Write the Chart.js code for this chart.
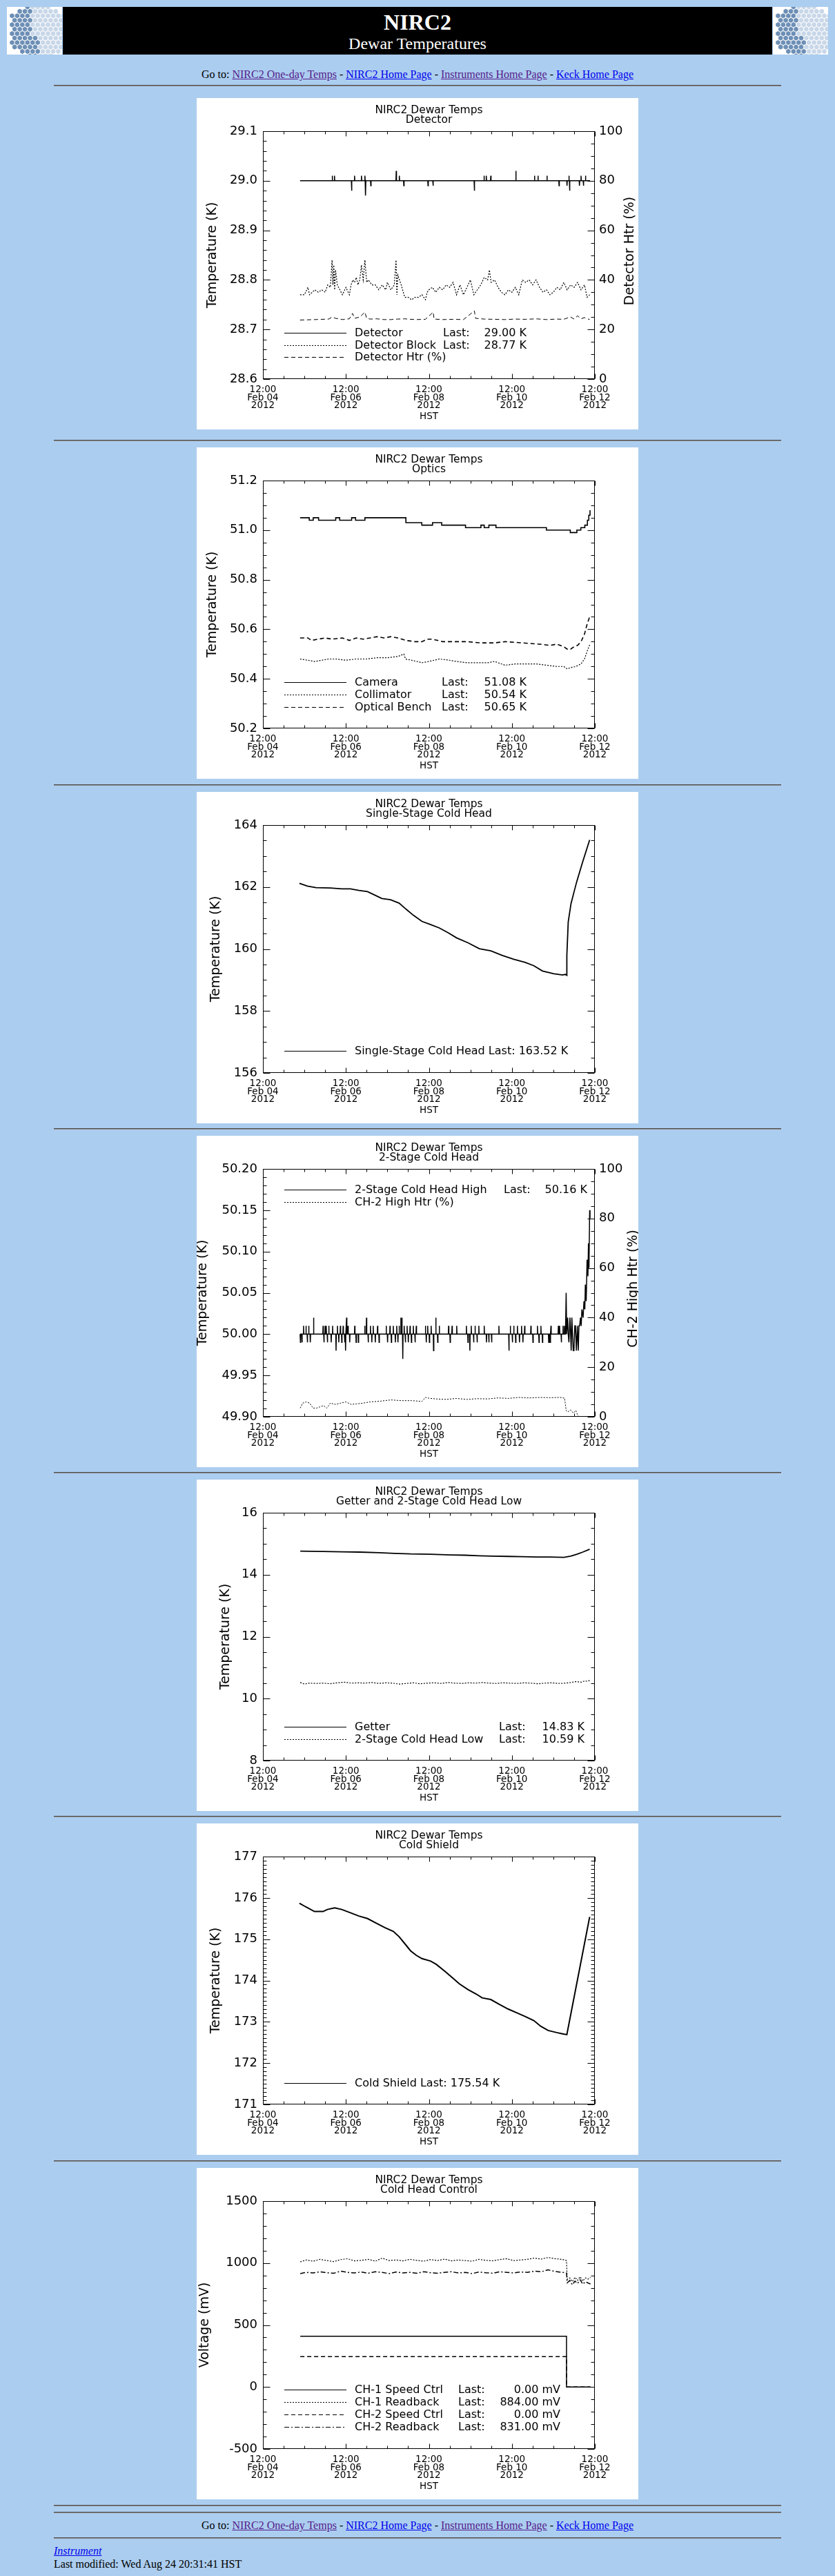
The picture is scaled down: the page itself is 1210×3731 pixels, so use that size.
<!DOCTYPE html>
<html>
<head>
<meta charset="utf-8">
<title>NIRC2 Dewar Temperatures</title>
<script src="https://cdn.jsdelivr.net/npm/chart.js@4.4.1/dist/chart.umd.min.js"></script>
<style>
  body { margin: 0; background: #abcdef; width: 1210px; height: 3731px; position: relative; overflow: hidden;
         font-family: "Liberation Serif", "Times New Roman", serif; font-size: 16px; color: #000; }
  .hr { position: absolute; left: 78px; width: 1054px; height: 0; border-top: 1px solid #4e4e4e; border-bottom: 1px solid #8a8a8a; }
  .panel { position: absolute; left: 285px; width: 640px; height: 480px; background: #fff; }
  .goto { position: absolute; left: 0; width: 1210px; text-align: center; line-height: 18px; }
  a { color: #0000ee; }
  a.v { color: #551a8b; }
  #banner { position: absolute; left: 91px; top: 10px; width: 1028px; height: 69px; background: #000; color: #fff; text-align: center; }
  #banner .t1 { position: absolute; left: 0; width: 100%; top: 4px; font-size: 32px; line-height: 36px; font-weight: bold; }
  #banner .t2 { position: absolute; left: 0; width: 100%; top: 39px; font-size: 24px; line-height: 28px; }
  .logo { position: absolute; top: 10px; }
  .foot { position: absolute; left: 78px; line-height: 18px; }
</style>
</head>
<body>

<canvas class="logo" id="logoL" width="80" height="69" style="left:10px"></canvas>
<div id="banner"><div class="t1">NIRC2</div><div class="t2">Dewar Temperatures</div></div>
<canvas class="logo" id="logoR" width="80" height="69" style="left:1120px"></canvas>

<div class="goto" style="top:99px">Go to: <a class="v" href="#">NIRC2 One-day Temps</a> - <a href="#">NIRC2 Home Page</a> - <a class="v" href="#">Instruments Home Page</a> - <a href="#">Keck Home Page</a></div>
<div class="hr" style="top:123px"></div>

<div class="panel" style="top:142px"><canvas id="c1" width="640" height="480"></canvas></div>
<div class="hr" style="top:637px"></div>
<div class="panel" style="top:648px"><canvas id="c2" width="640" height="480"></canvas></div>
<div class="hr" style="top:1136px"></div>
<div class="panel" style="top:1147px"><canvas id="c3" width="640" height="480"></canvas></div>
<div class="hr" style="top:1634px"></div>
<div class="panel" style="top:1645px"><canvas id="c4" width="640" height="480"></canvas></div>
<div class="hr" style="top:2132px"></div>
<div class="panel" style="top:2143px"><canvas id="c5" width="640" height="480"></canvas></div>
<div class="hr" style="top:2630px"></div>
<div class="panel" style="top:2641px"><canvas id="c6" width="640" height="480"></canvas></div>
<div class="hr" style="top:3129px"></div>
<div class="panel" style="top:3140px"><canvas id="c7" width="640" height="480"></canvas></div>
<div class="hr" style="top:3628px"></div>
<div class="hr" style="top:3638px"></div>

<div class="goto" style="top:3649px">Go to: <a class="v" href="#">NIRC2 One-day Temps</a> - <a href="#">NIRC2 Home Page</a> - <a class="v" href="#">Instruments Home Page</a> - <a href="#">Keck Home Page</a></div>
<div class="hr" style="top:3675px"></div>
<div class="foot" style="top:3686px"><a href="#"><i>Instrument</i></a></div>
<div class="foot" style="top:3705px">Last modified: Wed Aug 24 20:31:41 HST</div>

<script>
// x axis is hours after 12:00 Feb 04 2012 (HST)
const xTickLabels = [
    ['12:00', 'Feb 04', '2012'],
    ['12:00', 'Feb 06', '2012'],
    ['12:00', 'Feb 08', '2012'],
    ['12:00', 'Feb 10', '2012'],
    ['12:00', 'Feb 12', '2012'],
];

// Detector panel
const detectorBase = 29.00;
const detectorSpikes = [
    [40.1, 29.01], [41.4, 29.01], [51.3, 28.98], [53.0, 29.01], [57.0, 29.01], [59.0, 29.01],
    [59.4, 28.97], [62.4, 28.99], [77.1, 29.02], [78.9, 29.01], [81.5, 28.99], [95.5, 28.99],
    [98.4, 28.99], [122.3, 28.98], [127.9, 29.01], [129.2, 29.01], [131.8, 29.01], [146.3, 29.02],
    [157.1, 29.01], [159.1, 29.01], [164.3, 29.01], [171.3, 28.99], [175.9, 28.99], [177.0, 29.01],
    [177.4, 28.98], [183.1, 28.99], [184.0, 29.01], [185.4, 28.99], [186.6, 29.01],
];
const detectorBlock = [
    [21.5, 28.77], [24, 28.77], [26, 28.785], [27, 28.77], [30, 28.78], [32, 28.775], [34, 28.78],
    [36, 28.775], [37.5, 28.79], [39, 28.785], [40, 28.84], [40.5, 28.79], [41, 28.83], [41.5, 28.78],
    [42, 28.82], [43, 28.79], [44.5, 28.78], [46, 28.77], [48, 28.785], [50, 28.77], [51, 28.79],
    [52, 28.80], [53, 28.795], [54, 28.805], [55, 28.79], [56, 28.80], [57, 28.83], [58, 28.80],
    [59, 28.84], [60, 28.795], [61, 28.80], [63, 28.79], [65, 28.79], [67, 28.78], [69, 28.79],
    [71, 28.78], [72, 28.795], [74, 28.78], [76, 28.79], [77, 28.84], [77.5, 28.77], [78, 28.81],
    [79, 28.80], [80, 28.79], [82, 28.765], [84, 28.765], [86, 28.76], [88, 28.765], [90, 28.765],
    [92, 28.77], [94, 28.76], [95, 28.775], [96, 28.78], [98, 28.785], [100, 28.775], [102, 28.785],
    [104, 28.78], [106, 28.79], [108, 28.785], [110, 28.795], [112, 28.77], [114, 28.79], [116, 28.77],
    [118, 28.785], [120, 28.80], [122, 28.77], [124, 28.78], [126, 28.79], [128, 28.805], [130, 28.80],
    [131, 28.82], [132, 28.795], [134, 28.80], [136, 28.785], [138, 28.775], [140, 28.77], [142, 28.78],
    [144, 28.775], [146, 28.785], [148, 28.77], [150, 28.80], [152, 28.795], [154, 28.80], [156, 28.79],
    [158, 28.80], [160, 28.785], [162, 28.775], [164, 28.78], [166, 28.77], [168, 28.775], [170, 28.785],
    [172, 28.78], [174, 28.795], [176, 28.78], [178, 28.79], [180, 28.785], [182, 28.795], [184, 28.78],
    [186, 28.79], [187.5, 28.765], [189, 28.77],
];
const detectorHtr = [
    [21.5, 23.8], [30, 24], [38, 24.2], [40, 25], [42, 24.5], [46, 24], [50, 24.3], [51.8, 26.5],
    [53, 24.5], [56, 25], [59, 27], [60, 24.5], [62, 24.2], [66, 24.3], [70, 24], [74, 24], [78, 24.2],
    [82, 24.3], [88, 24], [94, 24.1], [98.5, 27], [99, 24.2], [104, 24], [110, 24.1], [116, 24],
    [122.3, 27.5], [123, 24.5], [128, 24.2], [134, 24.1], [140, 24], [146, 24.2], [152, 24.1],
    [158, 24.3], [164, 24], [170, 24.2], [174, 24.1], [176, 24.6], [178, 25], [180, 24.2], [182, 25.5],
    [184, 24.3], [186, 24.8], [189, 24],
];
const detectorNames = ['Detector', 'Detector Block', 'Detector Htr (%)'];
const detectorLast = ['29.00 K', '28.77 K', ''];

// Optics panel
const camera = [
    [21.5, 51.05], [26.8, 51.04], [29.1, 51.05], [32.2, 51.04], [42.1, 51.05], [44.4, 51.04],
    [51.3, 51.05], [53.6, 51.04], [59.0, 51.05], [82.7, 51.03], [91.9, 51.02], [98.1, 51.03],
    [103.4, 51.02], [117.2, 51.01], [126.1, 51.02], [128.0, 51.01], [130.7, 51.02], [134.8, 51.01],
    [164.0, 51.00], [177.8, 50.99], [181.6, 51.00], [183.9, 51.01], [186.2, 51.02], [187.7, 51.04],
    [188.5, 51.06], [189.2, 51.08],
];
const collimator = [
    [21.5, 50.48], [26, 50.475], [30, 50.47], [34, 50.475], [38, 50.48], [42, 50.48], [48, 50.475],
    [54, 50.48], [60, 50.48], [66, 50.485], [72, 50.485], [78, 50.49], [81.5, 50.50], [82.5, 50.48],
    [86, 50.475], [92, 50.465], [96, 50.47], [102, 50.48], [108, 50.475], [112, 50.47], [118, 50.465],
    [124, 50.465], [130, 50.465], [134, 50.47], [140, 50.455], [146, 50.46], [152, 50.46], [158, 50.46],
    [164, 50.455], [170, 50.45], [174, 50.45], [176, 50.44], [178, 50.445], [181, 50.45], [184, 50.46],
    [186, 50.48], [188, 50.52], [189.2, 50.54],
];
const opticalBench = [
    [21.5, 50.565], [26, 50.565], [28, 50.555], [32, 50.56], [36, 50.565], [40, 50.56], [46, 50.565],
    [50, 50.555], [54, 50.565], [58, 50.56], [62, 50.565], [66, 50.57], [70, 50.565], [74, 50.57],
    [78, 50.565], [82.7, 50.555], [88, 50.55], [92, 50.55], [95, 50.56], [98, 50.56], [104, 50.55],
    [110, 50.55], [118, 50.55], [126, 50.545], [134, 50.545], [140, 50.55], [150, 50.545], [160, 50.54],
    [166, 50.535], [170, 50.54], [174, 50.53], [176, 50.52], [178, 50.52], [180, 50.53], [182, 50.535],
    [184, 50.55], [186, 50.58], [187.5, 50.62], [189, 50.65],
];
const opticsNames = ['Camera', 'Collimator', 'Optical Bench'];
const opticsLast = ['51.08 K', '50.54 K', '50.65 K'];

// Single-stage cold head panel
const singleStage = [
    [21.1, 162.12], [25.7, 162.03], [30.7, 161.98], [39, 161.97], [45.6, 161.94], [50.6, 161.94],
    [55.5, 161.89], [60.5, 161.85], [65.5, 161.72], [68.8, 161.63], [73.8, 161.59], [78.8, 161.48],
    [82.9, 161.28], [87, 161.09], [92, 160.89], [97, 160.79], [102, 160.68], [107, 160.53],
    [112, 160.36], [118.6, 160.20], [125.2, 160.01], [131.8, 159.94], [138.5, 159.79], [145.1, 159.67],
    [151.7, 159.57], [156.7, 159.46], [161.7, 159.29], [168.3, 159.20], [173.3, 159.16], [174.9, 159.18],
    [175.8, 159.15], [175.8, 159.79], [176.6, 160.87], [178.2, 161.46], [179.9, 161.83], [181.5, 162.17],
    [184.9, 162.80], [189, 163.52],
];
const singleStageName = 'Single-Stage Cold Head';
const singleStageLast = '163.52 K';

// 2-stage cold head panel
const ch2HighBase = 50.00;
const ch2HighSpikes = [
    [21.7, 49.99], [22.6, 49.99], [23.5, 50.01], [24.9, 50.01], [25.7, 49.99], [26.5, 50.01], [27.4, 49.99],
    [29.3, 50.02], [34.8, 50.01], [35.3, 49.99], [36.0, 50.01], [36.6, 50.01], [37.3, 49.99], [38.1, 50.01],
    [39.5, 49.99], [40.3, 50.01], [42.3, 49.98], [43.1, 50.01], [43.9, 49.99], [44.8, 50.01], [45.6, 49.99],
    [46.4, 50.01], [47.3, 49.99], [47.8, 49.98], [48.4, 50.02], [49.2, 50.01], [50.2, 49.99], [53.1, 50.01],
    [53.9, 49.99], [55.2, 49.99], [58.9, 50.01], [59.9, 50.02], [60.9, 49.99], [62.2, 50.01], [63.0, 49.99],
    [63.8, 50.01], [65.0, 49.99], [66.3, 50.01], [67.2, 49.99], [71.3, 50.01], [72.1, 49.99], [73.5, 50.01],
    [74.3, 49.99], [75.4, 50.01], [76.6, 49.99], [77.4, 50.01], [78.1, 49.99], [78.8, 50.01], [79.8, 50.02],
    [80.4, 50.02], [80.9, 49.97], [81.7, 50.01], [82.4, 49.99], [83.4, 50.01], [84.1, 49.99], [85.1, 50.01],
    [85.9, 49.99], [87.0, 50.01], [88.0, 49.99], [88.7, 50.01], [94.0, 50.01], [94.5, 49.99], [95.3, 50.01],
    [96.3, 49.99], [97.3, 50.01], [98.7, 49.98], [100.0, 50.02], [101.1, 49.99], [102.0, 50.01],
    [107.4, 50.01], [108.3, 49.99], [109.4, 50.01], [112.1, 50.01], [117.7, 50.01], [118.6, 49.99],
    [119.7, 49.98], [120.5, 50.01], [121.9, 49.99], [122.7, 50.01], [123.9, 49.99], [124.9, 50.01],
    [128.0, 50.01], [129.3, 49.99], [130.7, 49.99], [132.3, 49.99], [136.5, 50.01], [142.3, 49.98],
    [143.1, 50.01], [144.3, 49.99], [145.1, 50.01], [146.2, 49.99], [147.2, 50.01], [148.4, 49.99],
    [149.6, 50.01], [150.4, 49.99], [151.4, 50.01], [155.0, 50.01], [156.2, 49.99], [158.8, 50.01],
    [159.7, 49.99], [160.8, 50.01], [161.7, 49.99], [165.3, 49.99], [166.1, 49.99], [166.6, 50.01],
    [170.9, 50.01], [171.6, 50.01], [172.6, 49.99], [173.6, 50.01], [174.4, 50.01],
];
const ch2HighTail = [
    [175.0, 50.00], [175.4, 50.05], [175.7, 50.00], [176.3, 50.02], [176.6, 50.00], [177.0, 49.99],
    [177.6, 50.02], [178.0, 50.00], [178.3, 49.98], [178.7, 50.02], [179.1, 50.00], [179.5, 49.98],
    [179.9, 49.98], [180.4, 50.01], [180.8, 50.01], [181.3, 49.98], [181.9, 50.01], [182.4, 49.98],
    [182.8, 50.01], [183.2, 50.01], [183.7, 50.02], [184.1, 50.01], [184.5, 50.03], [185.2, 50.02],
    [185.7, 50.04], [186.2, 50.03], [186.5, 50.06], [187.0, 50.04], [187.5, 50.09], [188.0, 50.07],
    [188.3, 50.11], [188.6, 50.08], [189.0, 50.15], [189.2, 50.14],
];
const ch2HighHtr = [
    [21.6, 3.5], [23, 5.5], [25, 6.0], [27, 5.5], [29, 3.5], [31, 3.5], [33, 4.0], [35, 4.5], [37, 3.5],
    [39, 5.5], [42, 5.0], [45, 5.5], [48, 6.0], [51, 5.0], [54, 5.2], [58, 5.5], [62, 6.0], [68, 6.3],
    [74, 6.8], [80, 6.5], [86, 6.5], [92, 6.2], [94, 7.8], [96, 7.5], [100, 7.2], [106, 7.0], [112, 7.4],
    [118, 7.0], [124, 7.3], [130, 7.2], [136, 7.6], [142, 7.4], [148, 7.8], [154, 7.6], [160, 7.8],
    [166, 7.7], [172, 7.8], [174.5, 7.5], [175.4, 2.5], [176.5, 2.0], [178, 2.8], [179.5, 1.5],
    [181, 2.5], [182.5, 0], [184, 0], [189, 0],
];
const coldHeadNames = ['2-Stage Cold Head High', 'CH-2 High Htr (%)'];
const coldHeadLast = ['50.16 K', ''];

// Getter panel
const getter = [
    [21.6, 14.76], [35, 14.75], [45.6, 14.74], [56, 14.73], [67.2, 14.71], [76, 14.69], [85.4, 14.67],
    [97, 14.66], [108.6, 14.64], [117, 14.63], [125.2, 14.61], [133, 14.60], [141.8, 14.59], [150, 14.58],
    [158.3, 14.57], [166, 14.57], [174.1, 14.56], [178, 14.60], [181.6, 14.66], [185, 14.73], [189, 14.82],
];
const coldHeadLow = [
    [21.6, 10.52], [24, 10.47], [27, 10.50], [31, 10.49], [35, 10.50], [39, 10.48], [43, 10.51],
    [47, 10.53], [51, 10.50], [55, 10.51], [59, 10.50], [63, 10.52], [67, 10.49], [71, 10.51], [75, 10.50],
    [79, 10.47], [83, 10.49], [87, 10.51], [91, 10.48], [95, 10.50], [99, 10.51], [103, 10.49], [107, 10.52],
    [111, 10.50], [115, 10.49], [119, 10.51], [123, 10.50], [127, 10.52], [131, 10.50], [135, 10.49],
    [139, 10.51], [143, 10.50], [147, 10.49], [151, 10.51], [155, 10.50], [159, 10.48], [163, 10.50],
    [167, 10.51], [171, 10.49], [175, 10.50], [178, 10.52], [181, 10.55], [184, 10.53], [186, 10.57],
    [188, 10.56], [189, 10.59],
];
const getterNames = ['Getter', '2-Stage Cold Head Low'];
const getterLast = ['14.83 K', '10.59 K'];

// Cold shield panel
const coldShield = [
    [21.1, 175.87], [24.9, 175.78], [29.8, 175.67], [34.8, 175.67], [37.3, 175.72], [41.5, 175.76],
    [45.6, 175.72], [50.6, 175.64], [55.5, 175.56], [60.5, 175.50], [65.5, 175.39], [70.5, 175.28],
    [75.4, 175.19], [78.8, 175.06], [82.1, 174.89], [85.4, 174.72], [88.7, 174.61], [92, 174.53],
    [97, 174.47], [100.3, 174.39], [105.3, 174.22], [110.3, 174.04], [113.6, 173.92], [118.6, 173.78],
    [123.5, 173.67], [126.8, 173.58], [131.8, 173.54], [136.8, 173.42], [141.8, 173.31], [146.7, 173.22],
    [151.7, 173.13], [156.7, 173.03], [160.8, 172.89], [165, 172.79], [169.9, 172.74], [173.3, 172.71],
    [175.8, 172.69], [189, 175.54],
];
const coldShieldName = 'Cold Shield';
const coldShieldLast = '175.54 K';

// Cold head control panel (mV)
const ch1SpeedCtrl = [[21.6, 410], [175.6, 410], [175.6, 0], [189.5, 0]];
const ch2SpeedCtrl = [[21.6, 245], [175.6, 245], [175.6, 0], [189.5, 0]];
const ch1Readback = [
    [21.6, 1010], [25, 1025], [29, 1015], [33, 1030], [37, 1020], [41, 1012], [45, 1028], [49, 1035],
    [53, 1018], [57, 1022], [61, 1030], [65, 1015], [69, 1040], [73, 1020], [77, 1025], [81, 1018],
    [85, 1030], [89, 1022], [93, 1015], [97, 1028], [101, 1020], [105, 1032], [109, 1018], [113, 1025],
    [117, 1020], [121, 1015], [125, 1030], [129, 1022], [133, 1018], [137, 1028], [141, 1035], [145, 1020],
    [149, 1025], [153, 1030], [157, 1040], [161, 1032], [165, 1045], [169, 1035], [173, 1030], [175.6, 1020],
    [176, 870], [177.5, 880], [179, 850], [180.5, 885], [182, 860], [183.5, 890], [185, 855], [186.5, 880],
    [188, 870], [189.5, 884],
];
const ch2Readback = [
    [21.6, 915], [25, 925], [29, 920], [33, 930], [37, 922], [41, 918], [45, 935], [49, 925], [53, 920],
    [57, 928], [61, 918], [65, 930], [69, 925], [73, 915], [77, 928], [81, 920], [85, 925], [89, 918],
    [93, 930], [97, 922], [101, 918], [105, 925], [109, 930], [113, 920], [117, 925], [121, 915],
    [125, 928], [129, 922], [133, 918], [137, 930], [141, 925], [145, 920], [149, 928], [153, 925],
    [157, 935], [161, 930], [165, 945], [169, 932], [173, 925], [175.6, 920], [176, 840], [177.5, 860],
    [179, 825], [180.5, 855], [182, 835], [183.5, 865], [185, 830], [186.5, 850], [188, 840], [189.5, 831],
];
const controlNames = ['CH-1 Speed Ctrl', 'CH-1 Readback', 'CH-2 Speed Ctrl', 'CH-2 Readback'];
const controlLast = ['0.00 mV', '884.00 mV', '0.00 mV', '831.00 mV'];


Chart.defaults.font.family = "'DejaVu Sans', sans-serif";
Chart.defaults.color = '#000';

const DASH = { solid: [], dotted: [2, 2], dashed: [6, 4], dashdot: [7, 3, 2, 3] };

function toPoints(arr) {
    return arr.map((p) => ({ x: p[0], y: p[1] }));
}

// flat baseline with single-sample excursions
function spikeLine(t0, t1, base, list) {
    const out = [{ x: t0, y: base }];
    list.forEach((p) => {
        out.push({ x: p[0] - 0.15, y: base }, { x: p[0], y: p[1] }, { x: p[0] + 0.15, y: base });
    });
    out.push({ x: t1, y: base });
    return out;
}

function tickList(min, max, minor, major) {
    const n = Math.round((max - min) / minor);
    const out = [];
    for (let i = 0; i <= n; i++) {
        const k = (i * minor) / major;
        out.push([min + i * minor, Math.abs(k - Math.round(k)) < 1e-6]);
    }
    return out;
}

// IDL style box, inward ticks, legend and right axis title
const idlFrame = {
    id: 'idlFrame',
    afterDraw(chart, args, o) {
        const { ctx, chartArea: a, scales } = chart;
        const L = Math.round(a.left) + 0.5;
        const R = Math.round(a.right) - 0.5;
        const T = Math.round(a.top) + 0.5;
        const B = Math.round(a.bottom) - 0.5;
        ctx.save();
        ctx.strokeStyle = '#000';
        ctx.fillStyle = '#000';
        ctx.lineWidth = 1;
        ctx.setLineDash([]);
        ctx.strokeRect(L, T, R - L, B - T);

        ctx.beginPath();
        const xs = scales.x;
        tickList(xs.min, xs.max, o.xMinor, 48).forEach(([v, major]) => {
            const p = Math.round(xs.getPixelForValue(v)) + 0.5;
            const len = major ? 7 : 4;
            ctx.moveTo(p, B); ctx.lineTo(p, B - len);
            ctx.moveTo(p, T); ctx.lineTo(p, T + len);
        });
        const ys = scales.y;
        tickList(ys.min, ys.max, o.yMinor, ys.options.ticks.stepSize).forEach(([v, major]) => {
            const p = Math.round(ys.getPixelForValue(v)) + 0.5;
            const len = major ? 10 : 5;
            ctx.moveTo(L, p); ctx.lineTo(L + len, p);
            if (!scales.y2) { ctx.moveTo(R, p); ctx.lineTo(R - len, p); }
        });
        if (scales.y2) {
            const y2 = scales.y2;
            tickList(y2.min, y2.max, o.y2Minor, y2.options.ticks.stepSize).forEach(([v, major]) => {
                const p = Math.round(y2.getPixelForValue(v)) + 0.5;
                const len = major ? 10 : 5;
                ctx.moveTo(R, p); ctx.lineTo(R - len, p);
            });
        }
        ctx.stroke();

        // legend
        const lg = o.legend;
        ctx.font = '16px "DejaVu Sans"';
        ctx.textBaseline = 'middle';
        lg.rows.forEach((r, i) => {
            const y = Math.round(lg.y + i * lg.dy) + 0.5;
            ctx.beginPath();
            ctx.setLineDash(DASH[r.style]);
            ctx.moveTo(127, y);
            ctx.lineTo(217, y);
            ctx.stroke();
            ctx.setLineDash([]);
            ctx.textAlign = 'left';
            if (r.last && lg.xLast) {
                ctx.fillText(r.name, 229, y);
                ctx.fillText('Last:', lg.xLast, y);
                ctx.textAlign = 'right';
                ctx.fillText(r.last, lg.xVal, y);
            } else if (r.last) {
                ctx.fillText(r.name + ' Last: ' + r.last, 229, y);
            } else {
                ctx.fillText(r.name, 229, y);
            }
        });

        if (o.rightTitle) {
            ctx.translate(o.rightTitle.x, (a.top + a.bottom) / 2 - 6);
            ctx.rotate(-Math.PI / 2);
            ctx.font = '19px "DejaVu Sans"';
            ctx.textAlign = 'center';
            ctx.fillText(o.rightTitle.text, 0, 0);
        }
        ctx.restore();
    },
};

function makeChart(id, c) {
    const noGrid = { display: false, drawTicks: false };
    const scales = {
        x: {
            type: 'linear',
            min: 0,
            max: 192,
            afterFit: (s) => { s.height = 73; },
            grid: noGrid,
            border: { display: false },
            ticks: {
                stepSize: 48,
                autoSkip: false,
                maxRotation: 0,
                padding: 10,
                font: { size: 13.5, lineHeight: 0.85 },
                callback: (v) => xTickLabels[Math.round(v / 48)],
            },
            title: { display: true, text: 'HST', font: { size: 13.5 }, padding: { top: 0, bottom: 10.9 } },
        },
        y: {
            type: 'linear',
            min: c.y.min,
            max: c.y.max,
            afterFit: (s) => { s.width = 96; },
            grid: noGrid,
            border: { display: false },
            ticks: {
                stepSize: c.y.step,
                padding: 8,
                font: { size: 18 },
                callback: (v) => v.toFixed(c.y.dec),
            },
            title: {
                display: true,
                text: c.y.title,
                font: { size: 19, lineHeight: 1 },
                padding: { top: c.y.titlePad, bottom: 0 },
            },
        },
    };
    if (c.y2) {
        scales.y2 = {
            type: 'linear',
            position: 'right',
            min: 0,
            max: 100,
            afterFit: (s) => { s.width = 63; },
            grid: noGrid,
            border: { display: false },
            ticks: { stepSize: 20, padding: 6, font: { size: 18 } },
        };
    }

    return new Chart(document.getElementById(id), {
        type: 'line',
        data: {
            datasets: c.sets.map((d) => ({
                data: d.data,
                yAxisID: d.axis || 'y',
                borderColor: '#000',
                borderWidth: d.w || 1,
                borderDash: DASH[d.style],
                pointRadius: 0,
                fill: false,
                tension: 0,
                stepped: d.stepped || false,
            })),
        },
        options: {
            responsive: false,
            animation: false,
            events: [],
            layout: { padding: { left: 0, top: 0, bottom: 0, right: c.y2 ? 0 : 63 } },
            scales,
            plugins: {
                legend: { display: false },
                tooltip: { enabled: false },
                title: {
                    display: true,
                    text: ['NIRC2 Dewar Temps', c.sub],
                    fullSize: false,
                    color: '#000',
                    font: { size: 15.5, weight: 'normal', lineHeight: 14 / 15.5 },
                    padding: { top: 11, bottom: 9 },
                },
                idlFrame: {
                    xMinor: 12,
                    yMinor: c.y.minor,
                    y2Minor: 5,
                    legend: c.legend,
                    rightTitle: c.rightTitle,
                },
            },
        },
        plugins: [idlFrame],
    });
}

function rows(styles, names, last) {
    return names.map((n, i) => ({ style: styles[i], name: n, last: last[i] }));
}

makeChart('c1', {
    sub: 'Detector',
    y: { min: 28.6, max: 29.1, step: 0.1, minor: 0.02, dec: 1, title: 'Temperature (K)', titlePad: 14 },
    y2: true,
    rightTitle: { text: 'Detector Htr (%)', x: 628 },
    sets: [
        { data: spikeLine(21.5, 189.2, detectorBase, detectorSpikes), style: 'solid', w: 1.5 },
        { data: toPoints(detectorBlock), style: 'dotted', w: 1.2 },
        { data: toPoints(detectorHtr), style: 'dashed', axis: 'y2', w: 1 },
    ],
    legend: { y: 340, dy: 17.7, xLast: 357, xVal: 478,
        rows: rows(['solid', 'dotted', 'dashed'], detectorNames, detectorLast) },
});

makeChart('c2', {
    sub: 'Optics',
    y: { min: 50.2, max: 51.2, step: 0.2, minor: 0.05, dec: 1, title: 'Temperature (K)', titlePad: 14 },
    sets: [
        { data: toPoints(camera), style: 'solid', w: 1.6, stepped: 'before' },
        { data: toPoints(collimator), style: 'dotted', w: 1.2 },
        { data: toPoints(opticalBench), style: 'dashed', w: 1.6 },
    ],
    legend: { y: 340, dy: 18, xLast: 355, xVal: 478,
        rows: rows(['solid', 'dotted', 'dashed'], opticsNames, opticsLast) },
});

makeChart('c3', {
    sub: 'Single-Stage Cold Head',
    y: { min: 156, max: 164, step: 2, minor: 0.5, dec: 0, title: 'Temperature (K)', titlePad: 18.5 },
    sets: [{ data: toPoints(singleStage), style: 'solid', w: 1.8 }],
    legend: { y: 375, dy: 18, xLast: null, rows: [{ style: 'solid', name: singleStageName, last: singleStageLast }] },
});

makeChart('c4', {
    sub: '2-Stage Cold Head',
    y: { min: 49.9, max: 50.2, step: 0.05, minor: 0.01, dec: 2, title: 'Temperature (K)', titlePad: 0 },
    y2: true,
    rightTitle: { text: 'CH-2 High Htr (%)', x: 633 },
    sets: [
        { data: spikeLine(21.5, 174.8, ch2HighBase, ch2HighSpikes).concat(toPoints(ch2HighTail)), style: 'solid', w: 1.5 },
        { data: toPoints(ch2HighHtr), style: 'dotted', axis: 'y2', w: 1 },
    ],
    legend: { y: 78, dy: 18, xLast: 445, xVal: 566,
        rows: rows(['solid', 'dotted'], coldHeadNames, coldHeadLast) },
});

makeChart('c5', {
    sub: 'Getter and 2-Stage Cold Head Low',
    y: { min: 8, max: 16, step: 2, minor: 0.5, dec: 0, title: 'Temperature (K)', titlePad: 33 },
    sets: [
        { data: toPoints(getter), style: 'solid', w: 1.8 },
        { data: toPoints(coldHeadLow), style: 'dotted', w: 1.2 },
    ],
    legend: { y: 358, dy: 18, xLast: 438, xVal: 562,
        rows: rows(['solid', 'dotted'], getterNames, getterLast) },
});

makeChart('c6', {
    sub: 'Cold Shield',
    y: { min: 171, max: 177, step: 1, minor: 0.1, dec: 0, title: 'Temperature (K)', titlePad: 18.5 },
    sets: [{ data: toPoints(coldShield), style: 'solid', w: 2 }],
    legend: { y: 376, dy: 18, xLast: null, rows: [{ style: 'solid', name: coldShieldName, last: coldShieldLast }] },
});

makeChart('c7', {
    sub: 'Cold Head Control',
    y: { min: -500, max: 1500, step: 500, minor: 100, dec: 0, title: 'Voltage (mV)', titlePad: 2.5 },
    sets: [
        { data: toPoints(ch1SpeedCtrl), style: 'solid', w: 1.5 },
        { data: toPoints(ch1Readback), style: 'dotted', w: 1.2 },
        { data: toPoints(ch2SpeedCtrl), style: 'dashed', w: 1.5 },
        { data: toPoints(ch2Readback), style: 'dashdot', w: 1.5 },
    ],
    legend: { y: 321, dy: 18, xLast: 379, xVal: 527,
        rows: rows(['solid', 'dotted', 'dashed', 'dashdot'], controlNames, controlLast) },
});

// hexagon segment logos in the banner
function drawLogo(cv) {
    const g = cv.getContext('2d');
    g.fillStyle = '#fff';
    g.fillRect(0, 0, cv.width, cv.height);
    const r = 4.3;
    const dx = r * Math.sqrt(3);
    const dy = r * 1.5;
    for (let row = -1; row < 18; row++) {
        for (let col = -1; col < 14; col++) {
            const cx = col * dx + (row % 2 ? dx / 2 : 0);
            const cy = row * dy;
            const ux = cx - 46;
            const uy = cy - 36;
            if (Math.abs(ux) > 39 || Math.abs(uy) + Math.abs(ux) * 0.577 > 46) continue;
            const dark = ux < -10 || (uy > 4 && ux < 2);
            g.fillStyle = dark ? '#6d8fb6' : '#c8d7e8';
            g.beginPath();
            for (let k = 0; k < 6; k++) {
                const ang = Math.PI / 6 + (k * Math.PI) / 3;
                const px = cx + (r - 0.6) * Math.cos(ang);
                const py = cy + (r - 0.6) * Math.sin(ang);
                if (k === 0) g.moveTo(px, py); else g.lineTo(px, py);
            }
            g.closePath();
            g.fill();
        }
    }
}

drawLogo(document.getElementById('logoL'));
drawLogo(document.getElementById('logoR'));
</script>
</body>
</html>
